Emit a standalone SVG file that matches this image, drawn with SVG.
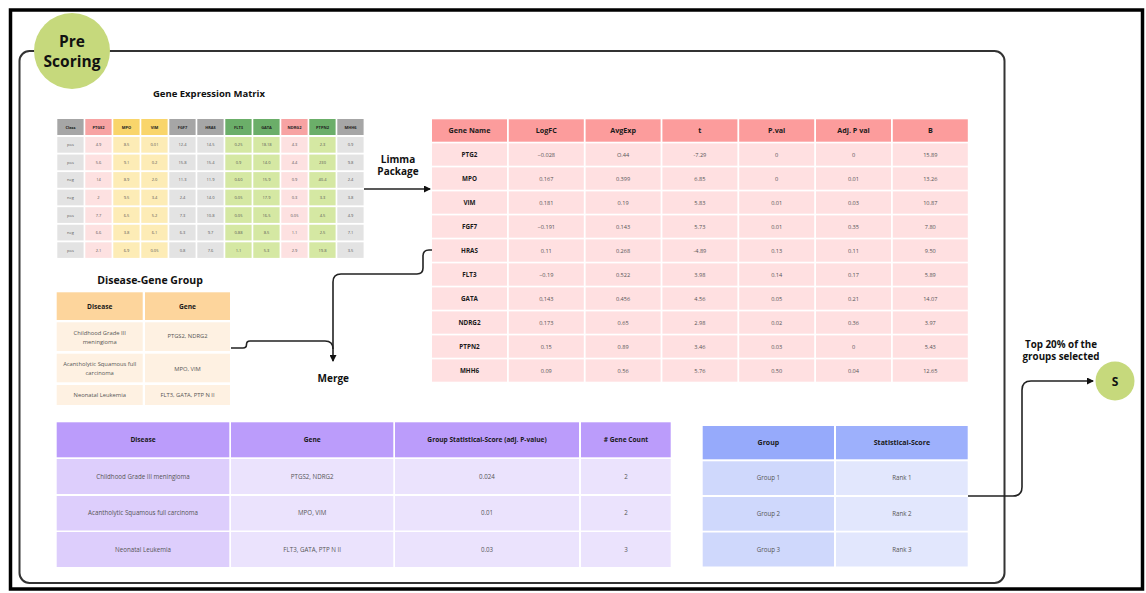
<svg xmlns="http://www.w3.org/2000/svg" width="1146" height="593" viewBox="0 0 1146 593">
<style>
text{font-family:"Open Sans","Liberation Sans",sans-serif;text-anchor:middle}
.t{font-weight:700;fill:#111}
.mh{font-size:4px;font-weight:700;fill:#222}
.md{font-size:4px;fill:#555}
.rh{font-size:7.2px;font-weight:700;fill:#1a1a1a}
.rn{font-size:6.3px;font-weight:700;fill:#1a1a1a}
.rd{font-size:5.6px;fill:#555}
.bh{font-size:6.6px;font-weight:700;fill:#1a1a1a}
.bd{font-size:6.2px;fill:#555}
.gy{fill:#a6a6a6}.gyl{fill:#e3e3e3}
.pk{fill:#f7a3a3}.pkl{fill:#fde1e1}
.yl{fill:#f9d56b}.yll{fill:#fdecb6}
.gr{fill:#6bae69}.grl{fill:#d5e8a3}
.con{fill:none;stroke:#222;stroke-width:1.6}
</style>
<defs>
<marker id="arr" markerWidth="7" markerHeight="7" refX="6" refY="3.5" orient="auto" markerUnits="userSpaceOnUse">
<path d="M0,0 L7,3.5 L0,7 Z" fill="#111"/>
</marker>
</defs>
<rect width="1146" height="593" fill="#fff"/>
<rect x="10.5" y="10" width="1132" height="579" fill="none" stroke="#000" stroke-width="3.5"/>
<rect x="19.5" y="51" width="985" height="532" rx="10" fill="none" stroke="#333" stroke-width="2"/>

<g id="pre-scoring">
<circle cx="72" cy="51" r="38" fill="#c6d97c"/>
<text class="t" x="72" y="46.5" font-size="15.5">Pre</text>
<text class="t" x="72" y="66.5" font-size="15.5">Scoring</text>
</g>

<g id="gene-expression-matrix">
<text class="t" x="209" y="97" font-size="9.5">Gene Expression Matrix</text>
<rect class="gy" x="57.3" y="119" width="26.3" height="16"/>
<rect class="pk" x="85.3" y="119" width="26.3" height="16"/>
<rect class="yl" x="113.3" y="119" width="26.3" height="16"/>
<rect class="yl" x="141.3" y="119" width="26.3" height="16"/>
<rect class="gy" x="169.3" y="119" width="26.3" height="16"/>
<rect class="gy" x="197.3" y="119" width="26.3" height="16"/>
<rect class="gr" x="225.3" y="119" width="26.3" height="16"/>
<rect class="gr" x="253.3" y="119" width="26.3" height="16"/>
<rect class="pk" x="281.3" y="119" width="26.3" height="16"/>
<rect class="gr" x="309.3" y="119" width="26.3" height="16"/>
<rect class="gy" x="337.3" y="119" width="26.3" height="16"/>
<g>
<rect class="gyl" x="57.3" y="137" width="26.3" height="120.9"/>
<rect class="pkl" x="85.3" y="137" width="26.3" height="120.9"/>
<rect class="yll" x="113.3" y="137" width="26.3" height="120.9"/>
<rect class="yll" x="141.3" y="137" width="26.3" height="120.9"/>
<rect class="gyl" x="169.3" y="137" width="26.3" height="120.9"/>
<rect class="gyl" x="197.3" y="137" width="26.3" height="120.9"/>
<rect class="grl" x="225.3" y="137" width="26.3" height="120.9"/>
<rect class="grl" x="253.3" y="137" width="26.3" height="120.9"/>
<rect class="pkl" x="281.3" y="137" width="26.3" height="120.9"/>
<rect class="grl" x="309.3" y="137" width="26.3" height="120.9"/>
<rect class="gyl" x="337.3" y="137" width="26.3" height="120.9"/>
<g fill="#fff">
<rect x="57" y="152.7" width="307" height="1.85"/>
<rect x="57" y="170.25" width="307" height="1.85"/>
<rect x="57" y="187.8" width="307" height="1.85"/>
<rect x="57" y="205.35" width="307" height="1.85"/>
<rect x="57" y="222.9" width="307" height="1.85"/>
<rect x="57" y="240.45" width="307" height="1.85"/>
</g>
</g>
<g class="mh">
<text x="70.5" y="128.5">Class</text><text x="98.5" y="128.5">PTGS2</text><text x="126.5" y="128.5">MPO</text><text x="154.5" y="128.5">VIM</text><text x="182.5" y="128.5">FGF7</text><text x="210.5" y="128.5">HRAS</text><text x="238.5" y="128.5">FLT3</text><text x="266.5" y="128.5">GATA</text><text x="294.5" y="128.5">NDRG2</text><text x="322.5" y="128.5">PTPN2</text><text x="350.5" y="128.5">MHH6</text>
</g>
<g class="md">
<text x="70.5" y="146.3">pos</text><text x="98.5" y="146.3">4.9</text><text x="126.5" y="146.3">8.5</text><text x="154.5" y="146.3">0.01</text><text x="182.5" y="146.3">12.4</text><text x="210.5" y="146.3">14.5</text><text x="238.5" y="146.3">0.25</text><text x="266.5" y="146.3">18.18</text><text x="294.5" y="146.3">4.3</text><text x="322.5" y="146.3">2.3</text><text x="350.5" y="146.3">0.9</text>
<text x="70.5" y="163.8">pos</text><text x="98.5" y="163.8">5.6</text><text x="126.5" y="163.8">9.1</text><text x="154.5" y="163.8">0.2</text><text x="182.5" y="163.8">15.8</text><text x="210.5" y="163.8">15.4</text><text x="238.5" y="163.8">0.9</text><text x="266.5" y="163.8">14.0</text><text x="294.5" y="163.8">4.4</text><text x="322.5" y="163.8">230</text><text x="350.5" y="163.8">9.8</text>
<text x="70.5" y="181.4">neg</text><text x="98.5" y="181.4">14</text><text x="126.5" y="181.4">8.9</text><text x="154.5" y="181.4">2.0</text><text x="182.5" y="181.4">11.3</text><text x="210.5" y="181.4">11.9</text><text x="238.5" y="181.4">0.60</text><text x="266.5" y="181.4">15.9</text><text x="294.5" y="181.4">0.9</text><text x="322.5" y="181.4">40.4</text><text x="350.5" y="181.4">2.4</text>
<text x="70.5" y="198.9">neg</text><text x="98.5" y="198.9">2</text><text x="126.5" y="198.9">9.5</text><text x="154.5" y="198.9">3.4</text><text x="182.5" y="198.9">2.4</text><text x="210.5" y="198.9">14.0</text><text x="238.5" y="198.9">0.05</text><text x="266.5" y="198.9">17.9</text><text x="294.5" y="198.9">0.3</text><text x="322.5" y="198.9">3.3</text><text x="350.5" y="198.9">3.8</text>
<text x="70.5" y="216.5">pos</text><text x="98.5" y="216.5">7.7</text><text x="126.5" y="216.5">6.5</text><text x="154.5" y="216.5">5.2</text><text x="182.5" y="216.5">7.3</text><text x="210.5" y="216.5">10.8</text><text x="238.5" y="216.5">0.05</text><text x="266.5" y="216.5">16.5</text><text x="294.5" y="216.5">0.05</text><text x="322.5" y="216.5">4.5</text><text x="350.5" y="216.5">4.9</text>
<text x="70.5" y="234">neg</text><text x="98.5" y="234">6.6</text><text x="126.5" y="234">3.8</text><text x="154.5" y="234">6.1</text><text x="182.5" y="234">6.3</text><text x="210.5" y="234">9.7</text><text x="238.5" y="234">0.88</text><text x="266.5" y="234">8.5</text><text x="294.5" y="234">1.1</text><text x="322.5" y="234">2.5</text><text x="350.5" y="234">7.1</text>
<text x="70.5" y="251.6">pos</text><text x="98.5" y="251.6">2.1</text><text x="126.5" y="251.6">6.9</text><text x="154.5" y="251.6">0.05</text><text x="182.5" y="251.6">0.8</text><text x="210.5" y="251.6">7.6</text><text x="238.5" y="251.6">1.1</text><text x="266.5" y="251.6">5.3</text><text x="294.5" y="251.6">2.9</text><text x="322.5" y="251.6">19.8</text><text x="350.5" y="251.6">3.5</text>
</g>
</g>

<g id="limma-label">
<text class="t" x="398" y="162.5" font-size="10">Limma</text>
<text class="t" x="398" y="174.5" font-size="10">Package</text>
</g>

<g id="disease-gene-group">
<text class="t" x="150" y="284" font-size="10.5">Disease-Gene Group</text>
<rect x="56.7" y="292.3" width="86" height="27.7" fill="#fdd59c"/>
<rect x="145" y="292.3" width="85" height="27.7" fill="#fdd59c"/>
<rect x="56.7" y="322.3" width="86" height="28.7" fill="#fef1e2"/>
<rect x="145" y="322.3" width="85" height="28.7" fill="#fef1e2"/>
<rect x="56.7" y="353.7" width="86" height="28.6" fill="#fef1e2"/>
<rect x="145" y="353.7" width="85" height="28.6" fill="#fef1e2"/>
<rect x="56.7" y="385" width="86" height="20" fill="#fef1e2"/>
<rect x="145" y="385" width="85" height="20" fill="#fef1e2"/>
<text class="bh" x="99.7" y="308.5" font-size="7">Disease</text>
<text class="bh" x="187.5" y="308.5" font-size="7">Gene</text>
<g class="bd" style="font-size:5.8px">
<text x="99.7" y="335">Childhood Grade III</text>
<text x="99.7" y="344">meningioma</text>
<text x="187.5" y="338">PTGS2, NDRG2</text>
<text x="99.7" y="366">Acantholytic Squamous full</text>
<text x="99.7" y="374.5">carcinoma</text>
<text x="187.5" y="370.5">MPO, VIM</text>
<text x="99.7" y="397">Neonatal Leukemia</text>
<text x="187.5" y="397">FLT3, GATA, PTP N II</text>
</g>
</g>

<g id="limma-results">
<g fill="#fc9c9c">
<rect x="432" y="119.3" width="75" height="22.4"/><rect x="508.8" y="119.3" width="75" height="22.4"/><rect x="585.6" y="119.3" width="75" height="22.4"/><rect x="662.4" y="119.3" width="75" height="22.4"/><rect x="739.2" y="119.3" width="75" height="22.4"/><rect x="816" y="119.3" width="75" height="22.4"/><rect x="892.8" y="119.3" width="75" height="22.4"/>
</g>
<g fill="#ffe0e1">
<rect x="432" y="143.4" width="75" height="238.3"/><rect x="508.8" y="143.4" width="75" height="238.3"/><rect x="585.6" y="143.4" width="75" height="238.3"/><rect x="662.4" y="143.4" width="75" height="238.3"/><rect x="739.2" y="143.4" width="75" height="238.3"/><rect x="816" y="143.4" width="75" height="238.3"/><rect x="892.8" y="143.4" width="75" height="238.3"/>
</g>
<g fill="#fff">
<rect x="432" y="165.7" width="536" height="1.7"/><rect x="432" y="189.7" width="536" height="1.7"/><rect x="432" y="213.7" width="536" height="1.7"/><rect x="432" y="237.7" width="536" height="1.7"/><rect x="432" y="261.7" width="536" height="1.7"/><rect x="432" y="285.7" width="536" height="1.7"/><rect x="432" y="309.7" width="536" height="1.7"/><rect x="432" y="333.7" width="536" height="1.7"/><rect x="432" y="357.7" width="536" height="1.7"/>
</g>
<g class="rh">
<text x="469.5" y="133">Gene Name</text><text x="546.3" y="133">LogFC</text><text x="623.1" y="133">AvgExp</text><text x="699.9" y="133">t</text><text x="776.7" y="133">P.val</text><text x="853.5" y="133">Adj. P val</text><text x="930.3" y="133">B</text>
</g>
<g class="rn">
<text x="469.5" y="156.7">PTG2</text><text x="469.5" y="180.7">MPO</text><text x="469.5" y="204.7">VIM</text><text x="469.5" y="228.7">FGF7</text><text x="469.5" y="252.7">HRAS</text><text x="469.5" y="276.7">FLT3</text><text x="469.5" y="300.7">GATA</text><text x="469.5" y="324.7">NDRG2</text><text x="469.5" y="348.7">PTPN2</text><text x="469.5" y="372.7">MHH6</text>
</g>
<g class="rd">
<text x="546.3" y="156.5">−0.028</text><text x="623.1" y="156.5">O.44</text><text x="699.9" y="156.5">-7.29</text><text x="776.7" y="156.5">0</text><text x="853.5" y="156.5">0</text><text x="930.3" y="156.5">15.89</text>
<text x="546.3" y="180.5">0.167</text><text x="623.1" y="180.5">0.399</text><text x="699.9" y="180.5">6.85</text><text x="776.7" y="180.5">0</text><text x="853.5" y="180.5">0.01</text><text x="930.3" y="180.5">13.26</text>
<text x="546.3" y="204.5">0.181</text><text x="623.1" y="204.5">0.19</text><text x="699.9" y="204.5">5.83</text><text x="776.7" y="204.5">0.01</text><text x="853.5" y="204.5">0.03</text><text x="930.3" y="204.5">10.87</text>
<text x="546.3" y="228.5">−0.191</text><text x="623.1" y="228.5">0.143</text><text x="699.9" y="228.5">5.73</text><text x="776.7" y="228.5">0.01</text><text x="853.5" y="228.5">0.35</text><text x="930.3" y="228.5">7.80</text>
<text x="546.3" y="252.5">0.11</text><text x="623.1" y="252.5">0.268</text><text x="699.9" y="252.5">-4.89</text><text x="776.7" y="252.5">0.13</text><text x="853.5" y="252.5">0.11</text><text x="930.3" y="252.5">9.50</text>
<text x="546.3" y="276.5">−0.19</text><text x="623.1" y="276.5">0.522</text><text x="699.9" y="276.5">3.98</text><text x="776.7" y="276.5">0.14</text><text x="853.5" y="276.5">0.17</text><text x="930.3" y="276.5">5.89</text>
<text x="546.3" y="300.5">0,143</text><text x="623.1" y="300.5">0.456</text><text x="699.9" y="300.5">4.56</text><text x="776.7" y="300.5">0.05</text><text x="853.5" y="300.5">0.21</text><text x="930.3" y="300.5">14.07</text>
<text x="546.3" y="324.5">0.173</text><text x="623.1" y="324.5">0.65</text><text x="699.9" y="324.5">2.98</text><text x="776.7" y="324.5">0.02</text><text x="853.5" y="324.5">0.36</text><text x="930.3" y="324.5">3.97</text>
<text x="546.3" y="348.5">0.15</text><text x="623.1" y="348.5">0.89</text><text x="699.9" y="348.5">3.46</text><text x="776.7" y="348.5">0.03</text><text x="853.5" y="348.5">0</text><text x="930.3" y="348.5">5.43</text>
<text x="546.3" y="372.5">0.09</text><text x="623.1" y="372.5">0.56</text><text x="699.9" y="372.5">5.76</text><text x="776.7" y="372.5">0.50</text><text x="853.5" y="372.5">0.04</text><text x="930.3" y="372.5">12.65</text>
</g>
</g>

<g id="merge-label">
<text class="t" x="333.3" y="382" font-size="10">Merge</text>
</g>

<g id="group-scores">
<rect x="56.7" y="422.3" width="172.6" height="35" fill="#bb9cfb"/>
<rect x="231" y="422.3" width="162.3" height="35" fill="#bb9cfb"/>
<rect x="395" y="422.3" width="184" height="35" fill="#bb9cfb"/>
<rect x="581" y="422.3" width="89.7" height="35" fill="#bb9cfb"/>
<rect x="56.7" y="459" width="172.6" height="35" fill="#ddcefc"/>
<rect x="56.7" y="496" width="172.6" height="34.5" fill="#ddcefc"/>
<rect x="56.7" y="532" width="172.6" height="35" fill="#ddcefc"/>
<g fill="#ebe3fd">
<rect x="231" y="459" width="162.3" height="35"/><rect x="395" y="459" width="184" height="35"/><rect x="581" y="459" width="89.7" height="35"/>
<rect x="231" y="496" width="162.3" height="34.5"/><rect x="395" y="496" width="184" height="34.5"/><rect x="581" y="496" width="89.7" height="34.5"/>
<rect x="231" y="532" width="162.3" height="35"/><rect x="395" y="532" width="184" height="35"/><rect x="581" y="532" width="89.7" height="35"/>
</g>
<g class="bh">
<text x="143" y="442">Disease</text><text x="312.2" y="442">Gene</text><text x="487" y="442">Group Statistical-Score (adj. P-value)</text><text x="625.9" y="442"># Gene Count</text>
</g>
<g class="bd">
<text x="143" y="478.5">Childhood Grade III meningioma</text><text x="312.2" y="478.5">PTGS2, NDRG2</text><text x="487" y="478.5">0.024</text><text x="625.9" y="478.5">2</text>
<text x="143" y="515.3">Acantholytic Squamous full carcinoma</text><text x="312.2" y="515.3">MPO, VIM</text><text x="487" y="515.3">0.01</text><text x="625.9" y="515.3">2</text>
<text x="143" y="551.5">Neonatal Leukemia</text><text x="312.2" y="551.5">FLT3, GATA, PTP N II</text><text x="487" y="551.5">0.03</text><text x="625.9" y="551.5">3</text>
</g>
</g>

<g id="group-ranks">
<rect x="702.7" y="426" width="131.3" height="33.3" fill="#96aafb"/>
<rect x="836" y="426" width="131.7" height="33.3" fill="#9db0fc"/>
<rect x="702.7" y="461.3" width="131.3" height="33.7" fill="#cfd8fc"/>
<rect x="702.7" y="497" width="131.3" height="33.7" fill="#cfd8fc"/>
<rect x="702.7" y="532.5" width="131.3" height="34" fill="#cfd8fc"/>
<rect x="836" y="461.3" width="131.7" height="33.7" fill="#e2e7fd"/>
<rect x="836" y="497" width="131.7" height="33.7" fill="#e2e7fd"/>
<rect x="836" y="532.5" width="131.7" height="34" fill="#e2e7fd"/>
<g class="bh" style="font-size:7px">
<text x="768.4" y="445">Group</text><text x="901.9" y="445">Statistical-Score</text>
</g>
<g class="bd">
<text x="768.4" y="480.3">Group 1</text><text x="901.9" y="480.3">Rank 1</text>
<text x="768.4" y="516">Group 2</text><text x="901.9" y="516">Rank 2</text>
<text x="768.4" y="551.6">Group 3</text><text x="901.9" y="551.6">Rank 3</text>
</g>
</g>

<g id="selected-label">
<text class="t" x="1061" y="347.5" font-size="9.8">Top 20% of the</text>
<text class="t" x="1061" y="360" font-size="9.8">groups selected</text>
</g>

<g id="s-node">
<circle cx="1115" cy="381" r="19.5" fill="#c6d97c"/>
<text class="t" x="1115" y="385.5" font-size="12">S</text>
</g>

<g id="connectors">
<path class="con" d="M364,189 H430" marker-end="url(#arr)"/>
<path class="con" d="M432,250 H429 Q423,250 423,256 V268 Q423,274 417,274 H341 Q333,274 333,282 V361" marker-end="url(#arr)"/>
<path class="con" d="M231,348 H243 Q246.5,348 246.5,344.5 Q246.5,341 250,341 H325 Q333,341 333,349"/>
<path class="con" d="M968,496 H1013 Q1022,496 1022,487 V390 Q1022,381 1031,381 H1093" marker-end="url(#arr)"/>
</g>
</svg>
